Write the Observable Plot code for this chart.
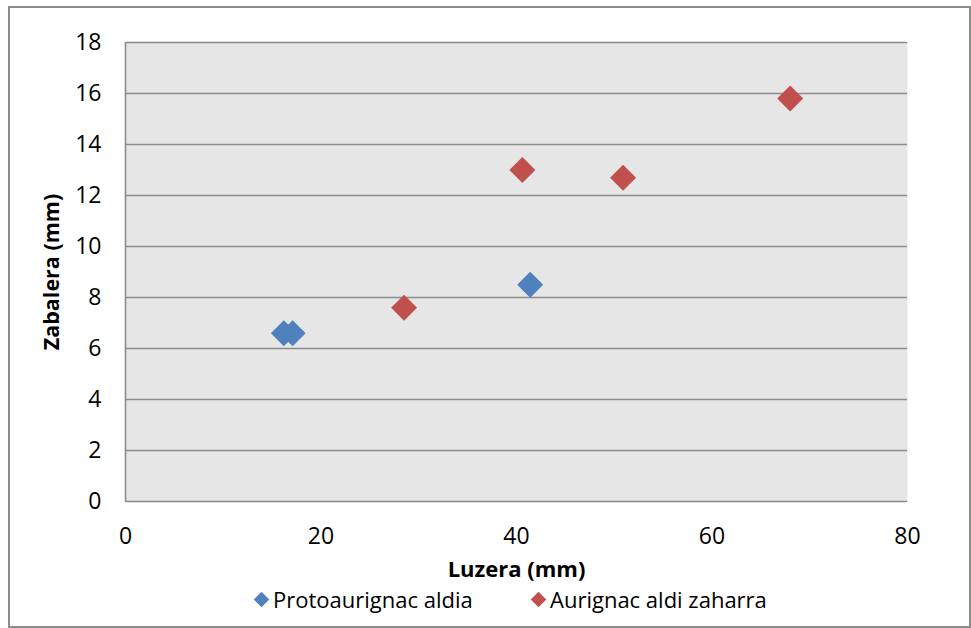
<!DOCTYPE html>
<html>
<head>
<meta charset="utf-8">
<script src="https://cdn.jsdelivr.net/npm/d3@7"></script>
<script src="https://cdn.jsdelivr.net/npm/@observablehq/plot@0.6"></script>
<style>
  html, body { margin: 0; padding: 0; background: #fff; }
  body { width: 971px; height: 628px; position: relative; overflow: hidden; font-family: "Open Sans", sans-serif; }
  #border { position: absolute; left: 8px; top: 6px; width: 959px; height: 618px; border: 2px solid #8c8c8c; }
  #chart { position: absolute; left: 0; top: 0; }
  #chart g[aria-label$="tick label"] text { font-size: 23px !important; }
  #legend { position: absolute; left: 0; top: 584px; width: 971px; height: 30px; }
  .item { position: absolute; top: 0; font-size: 22px; color: #000; display: flex; align-items: center; white-space: nowrap; }
  .sw { display: inline-block; width: 11px; height: 11px; transform: rotate(45deg); margin-right: 6px; }
</style>
</head>
<body>
<div id="border"></div>
<div id="chart"></div>
<div id="legend"></div>
<script>
const seriesNames = ["Protoaurignac aldia", "Aurignac aldi zaharra"];
const seriesColors = ["#4f81bd", "#c0504d"];
const protoX = [16.2, 17.1, 41.4];
const protoY = [6.6, 6.6, 8.5];
const aurigX = [28.5, 40.6, 50.9, 68.0];
const aurigY = [7.6, 13.0, 12.7, 15.8];
const xTicks = [0, 20, 40, 60, 80];
const yTicks = [0, 2, 4, 6, 8, 10, 12, 14, 16, 18];
const xLabel = "Luzera (mm)";
const yLabel = "Zabalera (mm)";

const points = [
  ...protoX.map((x, i) => ({x, y: protoY[i], s: seriesNames[0]})),
  ...aurigX.map((x, i) => ({x, y: aurigY[i], s: seriesNames[1]}))
];

const chart = Plot.plot({
  width: 971,
  height: 600,
  marginLeft: 125,
  marginRight: 64,
  marginTop: 42,
  marginBottom: 99,
  style: { fontFamily: "Open Sans, sans-serif", fontSize: "23px", background: "transparent", color: "#000" },
  x: { domain: [0, 80], ticks: xTicks, tickSize: 0, tickPadding: 26, label: null },
  y: { domain: [0, 18], ticks: yTicks, tickSize: 0, tickPadding: 24, label: null },
  color: { domain: seriesNames, range: seriesColors },
  marks: [
    Plot.frame({ fill: "#e6e6e6", stroke: null }),
    Plot.ruleY(yTicks, { stroke: "#8c8c8c", strokeWidth: 1.6 }),
    Plot.ruleX([0], { stroke: "#8c8c8c", strokeWidth: 1.6 }),
    Plot.axisX({ ticks: xTicks, tickSize: 0, tickPadding: 26, label: null, fontSize: 23 }),
    Plot.axisY({ ticks: yTicks, tickSize: 0, tickPadding: 24, label: null, fontSize: 23 }),
    Plot.dot(points, { x: "x", y: "y", fill: "s", symbol: "diamond2", r: 11.7, stroke: null }),
    Plot.text([xLabel], { frameAnchor: "bottom", dy: 68, lineAnchor: "middle", textAnchor: "middle", fontWeight: "bold", fontSize: 22, text: d => d }),
    Plot.text([yLabel], { frameAnchor: "left", dx: -73, rotate: -90, textAnchor: "middle", lineAnchor: "middle", fontWeight: "bold", fontSize: 21.5, text: d => d })
  ]
});
document.getElementById("chart").appendChild(chart);

const legend = document.getElementById("legend");
const lefts = [256, 533];
seriesNames.forEach((name, i) => {
  const item = document.createElement("div");
  item.className = "item";
  item.style.left = lefts[i] + "px";
  const sw = document.createElement("span");
  sw.className = "sw";
  sw.style.background = seriesColors[i];
  item.appendChild(sw);
  item.appendChild(document.createTextNode(name));
  legend.appendChild(item);
});
</script>
</body>
</html>
